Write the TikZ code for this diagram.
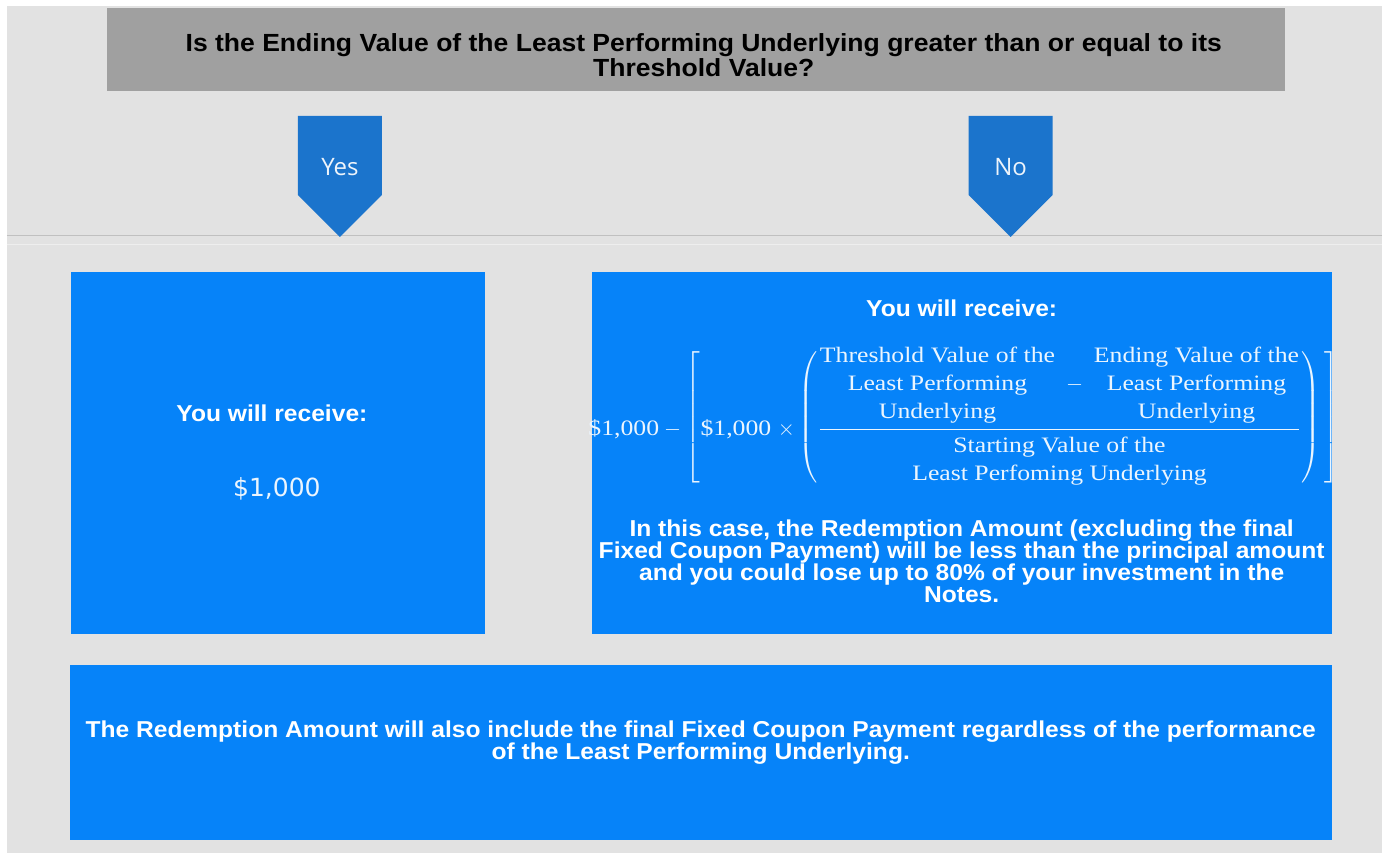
\documentclass[tikz,border=0pt]{standalone}
\usepackage{fontspec}
\usepackage{amsmath}
\setmainfont{Liberation Sans}[FakeStretch=1.07]
\newfontfamily\formfont{Liberation Serif}[FakeStretch=1.17]
\newfontfamily\labfont{Open Sans}
\newfontfamily\numfont{DejaVu Sans}
\newcommand{\tallstrut}{\rule[-27pt]{0pt}{60pt}}
\definecolor{pagegrey}{HTML}{E2E2E2}
\definecolor{headgrey}{HTML}{A0A0A0}
\definecolor{arrowblue}{HTML}{1B74CC}
\definecolor{boxblue}{HTML}{0683F9}
\tikzset{
  box/.style = {fill=boxblue, inner sep=0},
  boxtext/.style = {text=white, font=\bfseries\fontsize{11.5}{11}\selectfont, align=center},
  choice/.style = {text=white!92!arrowblue, font=\labfont\fontsize{12}{14}\selectfont}
}

\begin{document}
\begin{tikzpicture}[x=0.5pt, y=-0.5pt]
  \fill[white] (0,0) rectangle (1382,853);
  \fill[pagegrey] (7,6) rectangle (1382,853);
  \draw[pagegrey!60!white, line width=0.5pt] (7,245) -- (1382,245);
  \draw[pagegrey!85!black, line width=0.3pt] (7,235) -- (1382,235);

  % question
  \node[box, fill=headgrey, minimum width=589pt, minimum height=41.5pt] (question) at (696,49.5) {};
  \node[boxtext, text=black, font=\bfseries\fontsize{12.4}{10.6}\selectfont] (questiontext) at (704,55)
    {Is the Ending Value of the Least Performing Underlying greater than or equal to its\\Threshold Value?};

  % the two answers
  \fill[arrowblue] (298,116) -- (382,116) -- (382,195) -- (340,237) -- (298,195) -- cycle;
  \fill[arrowblue] (969,116) -- (1053,116) -- (1053,195) -- (1011,237) -- (969,195) -- cycle;
  \node[choice] (yes) at (340,167) {Yes};
  \node[choice] (no) at (1011,167) {No};

  % outcomes
  \node[box, minimum width=207pt, minimum height=181pt] (above) at (278,453) {};
  \node[box, minimum width=370pt, minimum height=181pt] (below) at (962,453) {};
  \node[box, minimum width=631pt, minimum height=87.5pt] (coupon) at (701,752.5) {};

  \node[boxtext] (abovehead) at (272,413) {You will receive:};
  \node[text=white!92!boxblue, font=\numfont\fontsize{12.5}{14}\selectfont] (aboveamount) at (277,489) {\$1,000};

  \node[boxtext] (belowhead) at (962,308) {You will receive:};
  \node[text=white!92!boxblue, font=\formfont\fontsize{11}{14}\selectfont] (formula) at (964,417)
    {\delimitershortfall=0pt \delimiterfactor=1000
     $\text{\$1,000} - \raisebox{6.5pt}{$\left[\smash{\raisebox{-6.5pt}{\$1,000 $\times$}}\left(\smash{\raisebox{-6.5pt}{$\dfrac{
      \begin{tabular}{@{}c@{}}Threshold Value of the\\Least Performing\\Underlying\end{tabular}
      \;-\;
      \begin{tabular}{@{}c@{}}Ending Value of the\\Least Performing\\Underlying\end{tabular}}{
      \begin{tabular}{@{}c@{}}Starting Value of the\\Least Perfoming Underlying\end{tabular}}$}}\tallstrut\right)\tallstrut\right]$}$};
  \node[boxtext] (belowtext) at (962,561)
    {In this case, the Redemption Amount (excluding the final\\
     Fixed Coupon Payment) will be less than the principal amount\\
     and you could lose up to 80\% of your investment in the\\
     Notes.};

  \node[boxtext] (coupontext) at (701,743)
    {The Redemption Amount will also include the final Fixed Coupon Payment regardless of the performance\\
     of the Least Performing Underlying.};
\end{tikzpicture}
\end{document}
